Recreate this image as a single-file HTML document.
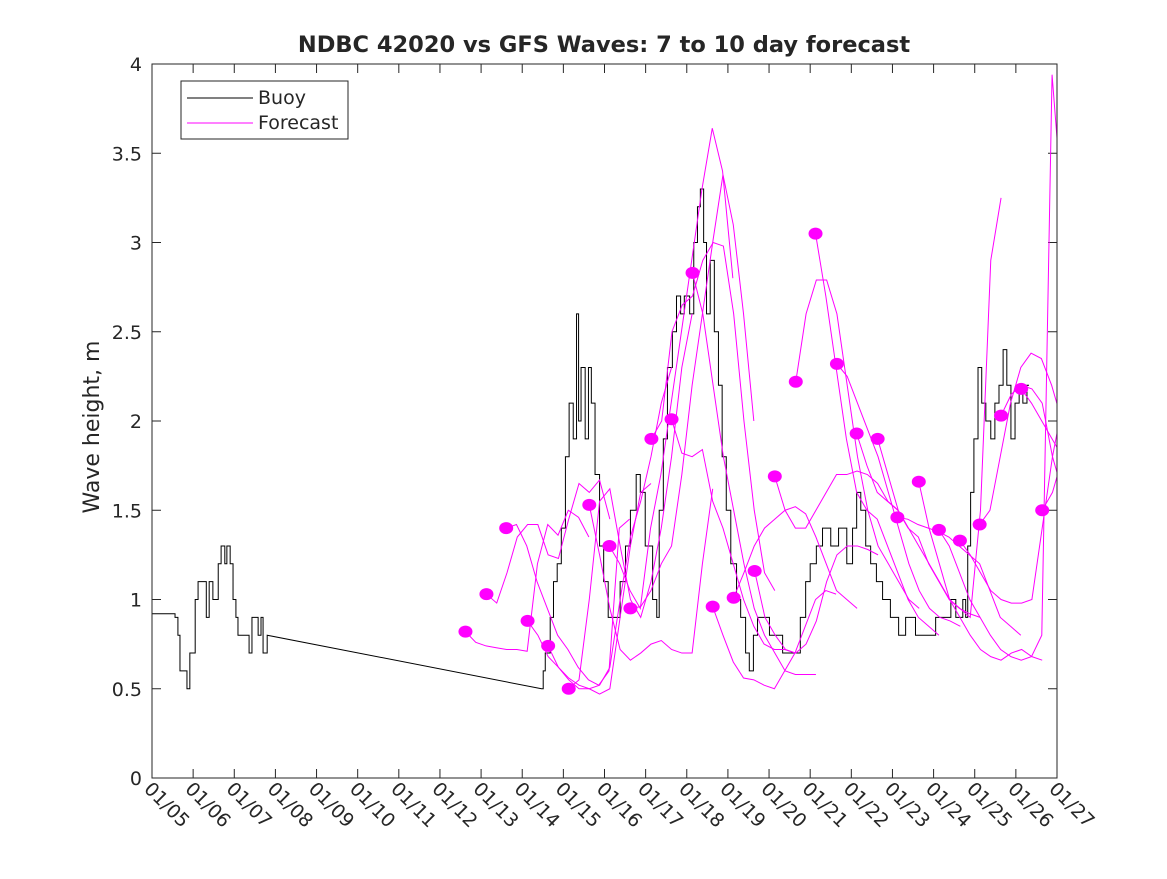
<!DOCTYPE html>
<html><head><meta charset="utf-8"><style>
body{margin:0;background:#fff;font-family:"DejaVu Sans",sans-serif;}
svg text{font-family:"DejaVu Sans",sans-serif;fill:#262626;}
</style></head><body>
<svg id="chart" width="1167" height="875">
<defs><clipPath id="pc"><rect x="152" y="64" width="905" height="714"/></clipPath></defs>
<rect width="1167" height="875" fill="#fff"/>
<text x="604" y="52" text-anchor="middle" font-size="22.5" font-weight="bold" fill="#000">NDBC 42020 vs GFS Waves: 7 to 10 day forecast</text>
<text transform="translate(99,427) rotate(-90)" text-anchor="middle" font-size="22">Wave height, m</text>
<g id="axes"></g>
<g id="series"></g>
<rect x="152" y="64" width="905" height="714" fill="none" stroke="#262626" stroke-width="1"/>
<g>
<rect x="181" y="81" width="167" height="58" fill="#fff" stroke="#262626"/>
<line x1="187" y1="98" x2="253" y2="98" stroke="#000"/>
<text x="258" y="104" font-size="19">Buoy</text>
<line x1="187" y1="123" x2="253" y2="123" stroke="#f0f"/>
<text x="258" y="129" font-size="19">Forecast</text>
</g>
</svg>
<script>
const yTicks=[0,0.5,1,1.5,2,2.5,3,3.5,4];
const xTickDays=[5,6,7,8,9,10,11,12,13,14,15,16,17,18,19,20,21,22,23,24,25,26,27];
const xTickLabels=["01/05","01/06","01/07","01/08","01/09","01/10","01/11","01/12","01/13","01/14","01/15","01/16","01/17","01/18","01/19","01/20","01/21","01/22","01/23","01/24","01/25","01/26","01/27"];
const buoyDays=[5.00,5.56,5.63,5.68,5.82,5.85,5.92,6.05,6.12,6.27,6.32,6.39,6.48,6.61,6.68,6.77,6.82,6.90,6.97,7.04,7.09,7.32,7.36,7.43,7.58,7.65,7.70,7.77,7.80,14.47,14.51,14.56,14.68,14.76,14.85,14.95,15.05,15.14,15.24,15.32,15.37,15.43,15.53,15.61,15.68,15.77,15.88,15.98,16.09,16.27,16.38,16.51,16.63,16.77,16.87,16.99,17.17,17.27,17.33,17.43,17.53,17.65,17.75,17.85,17.94,18.07,18.17,18.26,18.33,18.41,18.48,18.57,18.67,18.77,18.86,18.96,19.07,19.21,19.31,19.43,19.52,19.62,19.72,19.94,20.01,20.16,20.33,20.62,20.76,20.89,21.00,21.15,21.30,21.50,21.69,21.89,22.03,22.13,22.23,22.35,22.47,22.61,22.76,22.95,23.15,23.32,23.56,23.93,24.05,24.29,24.42,24.54,24.71,24.78,24.83,24.90,24.98,25.08,25.17,25.27,25.39,25.49,25.59,25.69,25.78,25.88,25.98,26.08,26.17,26.27,26.32];
const buoyVals=[0.92,0.9,0.8,0.6,0.6,0.5,0.7,1.0,1.1,1.1,0.9,1.1,1.0,1.2,1.3,1.2,1.3,1.2,1.0,0.9,0.8,0.8,0.7,0.9,0.8,0.9,0.7,0.7,0.8,0.5,0.6,0.7,0.9,1.1,1.2,1.4,1.8,2.1,1.9,2.6,2.0,2.3,1.9,2.3,2.1,1.7,1.3,1.1,0.9,0.9,1.1,1.3,1.5,1.7,1.6,1.3,1.0,0.9,1.5,1.9,2.3,2.5,2.7,2.6,2.7,2.6,3.0,3.2,3.3,3.0,2.6,2.9,2.5,2.2,1.8,1.5,1.2,1.0,0.9,0.7,0.6,0.8,0.9,0.9,0.8,0.8,0.7,0.7,0.9,1.1,1.2,1.3,1.4,1.3,1.4,1.2,1.4,1.6,1.5,1.3,1.2,1.1,1.0,0.9,0.8,0.9,0.8,0.8,0.9,0.9,1.0,0.9,1.0,0.9,1.3,1.6,1.9,2.3,2.1,2.0,1.9,2.1,2.2,2.4,2.2,1.9,2.1,2.2,2.1,2.2,2.2];
const fcStartDays=[12.62,13.13,13.61,14.13,14.63,15.13,15.63,16.12,16.63,17.14,17.63,18.14,18.63,19.14,19.65,20.14,20.65,21.13,21.65,22.13,22.64,23.12,23.64,24.13,24.64,25.12,25.64,26.13,26.64];
const fcStepDays=0.25;
const fcVals=[
[.82,.76,.74,.73,.72,.72,.71,1.20,1.42,1.36,1.50,1.46,1.35],
[1.03,.98,1.15,1.35,1.42,1.42,1.25,1.23,1.45,1.65,1.60,1.67,1.45],
[1.40,1.42,1.30,1.10,.95,.80,.72,.62,.55,.52,.60,1.40,1.45],
[.88,.80,.68,.62,.56,.52,.50,.47,.50,.90,1.30,1.60,1.65],
[.74,.62,.55,.50,.50,.52,.62,1.00,1.35,1.55,1.80,2.10,2.30],
[.50,.55,1.00,1.55,1.62,1.30,1.00,.90,1.10,1.40,1.80,2.30,2.60],
[1.53,1.25,.95,.72,.66,.70,.75,.77,.72,.70,.70,1.20,1.62],
[1.30,1.20,1.05,.95,1.40,1.70,2.10,2.50,2.90,3.30,3.64,3.40,2.80],
[.95,.96,1.05,1.20,1.30,1.70,2.20,2.60,3.00,3.38,3.10,2.60,2.00],
[1.90,2.00,2.50,2.65,2.70,2.90,3.00,2.98,2.60,2.00,1.50,1.15,1.05],
[2.01,1.82,1.80,1.84,1.55,1.40,1.20,1.00,.85,.75,.72,.72,.70],
[2.83,2.60,2.20,1.80,1.50,1.20,.95,.80,.70,.60,.58,.58,.58],
[.96,.80,.65,.56,.55,.52,.50,.60,.70,.85,1.00,1.05,1.03],
[1.01,1.15,1.30,1.40,1.45,1.50,1.52,1.48,1.35,1.20,1.05,1.00,.95],
[1.16,.90,.80,.72,.70,.75,.88,1.10,1.25,1.30,1.30,1.28,1.25],
[1.69,1.50,1.40,1.40,1.50,1.60,1.70,1.70,1.72,1.70,1.65,1.55,1.50],
[2.22,2.60,2.79,2.79,2.60,2.20,1.80,1.50,1.30,1.20,1.10,1.00,.95],
[3.05,2.70,2.30,1.90,1.60,1.50,1.45,1.30,1.15,1.00,.90,.85,.80],
[2.32,2.25,2.10,1.95,1.80,1.60,1.40,1.20,1.05,.95,.90,.88,.85],
[1.93,1.75,1.60,1.55,1.50,1.40,1.35,1.20,1.10,1.00,.95,.92,.90],
[1.90,1.70,1.50,1.40,1.30,1.20,1.10,1.00,.95,.90,1.50,2.90,3.25],
[1.46,1.45,1.42,1.40,1.38,1.35,1.30,1.25,1.20,1.05,.90,.85,.80],
[1.66,1.40,1.20,1.00,.90,.80,.72,.68,.66,.70,.72,.68,.66],
[1.39,1.30,1.15,1.00,.90,.80,.72,.68,.66,.68,.80,3.94,3.20],
[1.33,1.25,1.15,1.05,1.00,.98,.98,1.00,1.40,1.80,2.10,2.20,2.10],
[1.42,1.50,1.80,2.10,2.30,2.38,2.35,2.20,2.00,1.70,1.50,1.40,1.30],
[2.03,2.15,2.20,2.18,2.10,1.80,1.60,1.55,1.45,1.40,1.35,1.35,1.33],
[2.18,2.10,2.00,1.90,1.80,1.70,1.60,1.50,1.45,1.40,1.35,1.35,1.33],
[1.50,1.60,1.80,1.90,2.00,2.05,2.10]
];
const X0=152,X1=1057,Y0=778,Y1=64;
function xs(d){return X0+(d-5)/(27-5)*(X1-X0);}
function ys(v){return Y0-v/4*(Y0-Y1);}
const NS="http://www.w3.org/2000/svg";
const axes=document.getElementById('axes'),ser=document.getElementById('series');
ser.setAttribute('clip-path','url(#pc)');
function mk(tag,attrs,parent){const e=document.createElementNS(NS,tag);for(const k in attrs)e.setAttribute(k,attrs[k]);parent.appendChild(e);return e;}
yTicks.forEach(v=>{
  const y=ys(v);
  const t1=mk('line',{x1:X0,x2:X0+9,y1:y,y2:y,stroke:'#262626'},axes);
  
  
  const t2=mk('line',{x1:X1-9,x2:X1,y1:y,y2:y,stroke:'#262626'},axes);
  
  
  const t=mk('text',{x:X0-10,y:y+7,'text-anchor':'end','font-size':19},axes);
  t.textContent=String(v);
  
  
});
xTickDays.forEach((d,i)=>{
  const x=xs(d);
  const t1=mk('line',{x1:x,x2:x,y1:Y0,y2:Y0-9,stroke:'#262626'},axes);
  
  
  const t2=mk('line',{x1:x,x2:x,y1:Y1,y2:Y1+9,stroke:'#262626'},axes);
  
  
  const t=mk('text',{transform:`translate(${x-9},${Y0+12}) rotate(45)`,'font-size':19},axes);
  t.textContent=xTickLabels[i];
  
  
});
let p='';
buoyDays.forEach((d,i)=>{const x=xs(d),y=ys(buoyVals[i]);
  if(i===0)p+=`M${x},${y}`;else if(d-buoyDays[i-1]>1)p+=`L${x},${y}`;else p+=`H${x}V${y}`;});
const bl=mk('path',{d:p,fill:'none',stroke:'#000','stroke-width':1},ser);


fcStartDays.forEach((s,i)=>{
  const vals=fcVals[i];
  if(vals.length>1){
    const pts=vals.map((v,j)=>xs(s+j*fcStepDays)+','+ys(v)).join(' ');
    const l=mk('polyline',{points:pts,fill:'none',stroke:'#f0f','stroke-width':1},ser);
    
    
  }
  const c=mk('ellipse',{cx:xs(s),cy:ys(vals[0]),rx:7,ry:6,fill:'#f0f'},ser);
  
  
});
</script>
</body></html>
